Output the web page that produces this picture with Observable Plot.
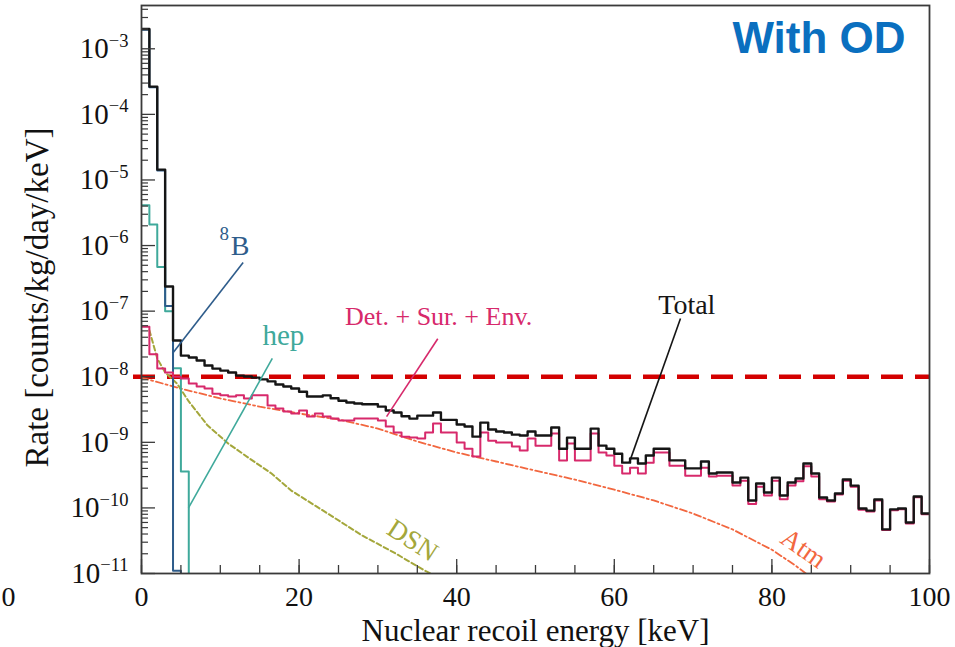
<!DOCTYPE html>
<html>
<head>
<meta charset="utf-8">
<script src="https://cdn.jsdelivr.net/npm/d3@7"></script>
<script src="https://cdn.jsdelivr.net/npm/@observablehq/plot@0.6"></script>
<style>
  body { margin: 0; background: #fff; }
  #chart { width: 955px; height: 647px; overflow: hidden; }
</style>
</head>
<body>
<div id="chart"></div>
<script>
// Nuclear-recoil background spectra, 1 keV bins starting at 0 keV.
// Rates in counts/kg/day/keV.
const totalRate = [
  2.0e-3, 2.65e-4, 1.44e-5, 2.37e-7, 3.56e-8, 2.1e-8, 1.96e-8, 1.77e-8, 1.48e-8, 1.33e-8,
  1.24e-8, 1.16e-8, 1.04e-8, 1.01e-8, 9.7e-9, 9.1e-9, 8.5e-9, 7.6e-9, 7.1e-9, 6.6e-9,
  5.9e-9, 5.0e-9, 5.0e-9, 5.2e-9, 4.7e-9, 4.3e-9, 4.05e-9, 3.9e-9, 3.8e-9, 3.8e-9,
  3.5e-9, 3.05e-9, 2.85e-9, 2.5e-9, 2.3e-9, 2.55e-9, 2.55e-9, 2.85e-9, 2.2e-9, 2.2e-9,
  1.87e-9, 1.74e-9, 1.22e-9, 2.0e-9, 1.57e-9, 1.46e-9, 1.41e-9, 1.31e-9, 1.27e-9, 1.46e-9,
  1.27e-9, 1.27e-9, 1.68e-9, 8.0e-10, 1.18e-9, 8.0e-10, 8.0e-10, 1.62e-9, 8.9e-10, 8.0e-10,
  6.7e-10, 4.9e-10, 5.7e-10, 4.75e-10, 6.3e-10, 8.0e-10, 8.0e-10, 5.3e-10, 5.3e-10, 4.0e-10,
  4.0e-10, 5.1e-10, 3.35e-10, 3.47e-10, 3.47e-10, 2.44e-10, 2.9e-10, 1.3e-10, 2.36e-10, 1.72e-10,
  2.9e-10, 1.55e-10, 2.44e-10, 2.81e-10, 4.75e-10, 3.35e-10, 1.44e-10, 1.3e-10, 1.66e-10, 2.71e-10,
  2.19e-10, 9.8e-11, 9.1e-11, 1.34e-10, 4.7e-11, 9.5e-11, 9.8e-11, 6.0e-11, 1.49e-10, 8.2e-11
];
const detSurEnvRate = [
  5.8e-8, 2.2e-8, 1.33e-8, 1.16e-8, 1.0e-8, 9.4e-9, 7.9e-9, 7.1e-9, 6.6e-9, 5.5e-9,
  5.2e-9, 5.0e-9, 5.2e-9, 4.66e-9, 5.2e-9, 5.2e-9, 3.64e-9, 3.27e-9, 2.95e-9, 2.75e-9,
  3.05e-9, 2.47e-9, 2.75e-9, 2.47e-9, 2.31e-9, 2.15e-9, 2.15e-9, 2.31e-9, 2.31e-9, 2.31e-9,
  2.15e-9, 1.74e-9, 1.41e-9, 1.22e-9, 1.18e-9, 1.14e-9, 1.41e-9, 1.94e-9, 1.41e-9, 1.41e-9,
  9.9e-10, 8.0e-10, 6.1e-10, 1.41e-9, 1.06e-9, 9.9e-10, 9.9e-10, 8.6e-10, 7.5e-10, 1.14e-9,
  8.9e-10, 8.9e-10, 1.36e-9, 5.3e-10, 9.6e-10, 5.3e-10, 5.3e-10, 1.36e-9, 7.0e-10, 6.3e-10,
  4.4e-10, 3.35e-10, 4.1e-10, 3.35e-10, 4.9e-10, 7.0e-10, 7.0e-10, 4.4e-10, 4.4e-10, 3.1e-10,
  3.1e-10, 4.1e-10, 3.0e-10, 3.1e-10, 3.1e-10, 2.2e-10, 2.6e-10, 1.15e-10, 2.1e-10, 1.55e-10,
  2.6e-10, 1.35e-10, 2.2e-10, 2.55e-10, 4.3e-10, 3.0e-10, 1.35e-10, 1.25e-10, 1.6e-10, 2.6e-10,
  2.1e-10, 9.4e-11, 8.8e-11, 1.3e-10, 4.6e-11, 9.2e-11, 9.5e-11, 5.8e-11, 1.45e-10, 8.0e-11
];
const boron8Rate = [1.95e-3, 2.6e-4, 1.4e-5, 1.2e-7, 1.1e-11];
const hepRate = [4.1e-6, 2.1e-6, 4.7e-7, 1.0e-7, 1.35e-8, 3.6e-10];

// Smooth components (energy in keV, rate)
const atmEnergy = [0, 5, 10, 15, 20, 25, 30, 35, 40, 45, 50, 55, 60, 65, 70, 75, 80, 83, 86];
const atmRate = [9.7e-9, 6.6e-9, 4.66e-9, 3.5e-9, 2.75e-9, 2.23e-9, 1.62e-9, 1.03e-9, 7.0e-10, 5.1e-10,
  3.7e-10, 2.7e-10, 1.9e-10, 1.3e-10, 8.2e-11, 4.7e-11, 2.3e-11, 1.32e-11, 7e-12];
const dsnEnergy = [1, 2, 3, 4.5, 6, 8.4, 11, 13.5, 16.5, 19, 22, 24, 28, 32, 36, 38];
const dsnRate = [5.1e-8, 1.9e-8, 1.16e-8, 7.9e-9, 4.2e-9, 1.8e-9, 9.6e-10, 5.9e-10, 3.35e-10, 1.84e-10,
  1.09e-10, 7.7e-11, 3.8e-11, 2.1e-11, 1.1e-11, 8.4e-12];

const thresholdRate = 1e-8;
const xTickValues = [0, 20, 40, 60, 80, 100];
const yExponents = [-11, -10, -9, -8, -7, -6, -5, -4, -3];

// Empty bins sit below the axis floor and get clipped away.
const emptyRate = 1e-13;
const yTop = 10 ** -2.34;

function histSteps(values, dropToEmpty) {
  const pts = values.map((v, i) => ({E: i, rate: v}));
  pts.push({E: values.length, rate: dropToEmpty ? emptyRate : values[values.length - 1]});
  return pts;
}
const curve = (es, rs) => es.map((e, i) => ({E: e, rate: rs[i]}));

const yMajor = yExponents.map(k => 10 ** k);
const yMinor = [];
for (const k of yExponents) for (let m = 2; m <= 9; m++) if (m * 10 ** k < yTop) yMinor.push(m * 10 ** k);
const xMinor = d3.range(0, 101, 5);

const C = {
  total: "#151515", det: "#d7296b", b8: "#2e5c8b", hep: "#3fa99b",
  dsn: "#a4a73b", atm: "#f2673f", thr: "#d30000", od: "#0a6fbf", axis: "#3a3a3a"
};
const serif = "Liberation Serif, Times New Roman, serif";

const plot = Plot.plot({
  width: 955,
  height: 647,
  marginLeft: 141,
  marginRight: 26,
  marginTop: 5,
  marginBottom: 74,
  x: {domain: [0, 100]},
  y: {type: "log", domain: [1e-11, yTop]},
  style: {fontFamily: serif, fontSize: "28px", color: "#111", background: "#fff"},
  marks: [
    // threshold
    Plot.ruleY([thresholdRate], {stroke: C.thr, strokeWidth: 4.5, strokeDasharray: "22,12", insetLeft: -8, ariaLabel: "threshold"}),
    // smooth components
    Plot.line(curve(atmEnergy, atmRate), {x: "E", y: "rate", stroke: C.atm, strokeWidth: 1.8, strokeDasharray: "7,3,2,3", clip: true}),
    Plot.line(curve(dsnEnergy, dsnRate), {x: "E", y: "rate", stroke: C.dsn, strokeWidth: 2, strokeDasharray: "5,3", clip: true}),
    // histograms
    Plot.line(histSteps(hepRate, true), {x: "E", y: "rate", curve: "step-after", stroke: C.hep, strokeWidth: 2, clip: true}),
    Plot.line(histSteps(boron8Rate, true), {x: "E", y: "rate", curve: "step-after", stroke: C.b8, strokeWidth: 2, clip: true}),
    Plot.line(histSteps(detSurEnvRate, false), {x: "E", y: "rate", curve: "step-after", stroke: C.det, strokeWidth: 2, clip: true}),
    Plot.line(histSteps(totalRate, false), {x: "E", y: "rate", curve: "step-after", stroke: C.total, strokeWidth: 2.4, clip: true}),

    // annotation pointers
    Plot.link([0], {x1: 12.9, y1: 5.5e-7, x2: 3.93, y2: 2.26e-8, stroke: C.b8, strokeWidth: 1.6}),
    Plot.link([0], {x1: 16.6, y1: 1.9e-8, x2: 5.96, y2: 1.0e-10, stroke: C.hep, strokeWidth: 1.6}),
    Plot.link([0], {x1: 37.6, y1: 3.8e-8, x2: 31.1, y2: 2.47e-9, stroke: C.det, strokeWidth: 1.6}),
    Plot.link([0], {x1: 68.4, y1: 7.7e-8, x2: 61.9, y2: 4.9e-10, stroke: C.total, strokeWidth: 1.6}),

    // annotation labels
    Plot.text(["B"], {text: d => d, x: 12.5, y: 1.0e-6, fill: C.b8, fontSize: 28}),
    Plot.text(["8"], {text: d => d, x: 10.5, y: 1.5e-6, fill: C.b8, fontSize: 19}),
    Plot.text(["hep"], {text: d => d, x: 18.0, y: 4.2e-8, fill: C.hep, fontSize: 29}),
    Plot.text(["Det. + Sur. + Env."], {text: d => d, x: 37.7, y: 8.3e-8, fill: C.det, fontSize: 26}),
    Plot.text(["Total"], {text: d => d, x: 69.2, y: 1.26e-7, fill: C.total, fontSize: 28}),
    Plot.text(["DSN"], {text: d => d, x: 34.4, y: 3.2e-11, fill: C.dsn, fontSize: 27, rotate: 33}),
    Plot.text(["Atm"], {text: d => d, x: 84.0, y: 2.4e-11, fill: C.atm, fontSize: 27, rotate: 35}),
    Plot.text(["With OD"], {text: d => d, frameAnchor: "top-right", dx: -24, dy: 33, textAnchor: "end", lineAnchor: "middle",
      fontFamily: "Liberation Sans, Arial, sans-serif", fontWeight: "bold", fontSize: 44, fill: C.od}),
    Plot.text(["0"], {text: d => d, frameAnchor: "bottom-left", dx: -140, dy: 24, textAnchor: "start", lineAnchor: "middle", fontSize: 28}),

    // frame and inward ticks
    Plot.frame({stroke: C.axis, strokeWidth: 1.8}),
    Plot.axisX({ticks: xMinor, tickSize: -8, tickFormat: () => "", fill: "none", stroke: C.axis, strokeWidth: 1.3, label: null}),
    Plot.axisX({ticks: xTickValues, tickSize: -14, tickFormat: () => "", fill: "none", stroke: C.axis, strokeWidth: 1.3, label: null}),
    Plot.axisX({ticks: xTickValues, tickSize: 0, tickPadding: 13, fontSize: 28, label: null}),
    Plot.axisY({ticks: yMinor, tickSize: -7, tickFormat: () => "", fill: "none", stroke: C.axis, strokeWidth: 1.2, label: null}),
    Plot.axisY({ticks: yMajor, tickSize: -14, tickFormat: () => "", fill: "none", stroke: C.axis, strokeWidth: 1.3, label: null}),
    Plot.axisY({ticks: yMajor, tickSize: 0, tickPadding: 13, fontSize: 29,
      tickFormat: d => "\u2212" + Math.round(-Math.log10(d)), label: null}),

    // axis titles
    Plot.text(["Nuclear recoil energy [keV]"], {text: d => d, frameAnchor: "bottom", dy: 58, textAnchor: "middle", lineAnchor: "middle", fontSize: 31}),
    Plot.text(["Rate [counts/kg/day/keV]"], {text: d => d, frameAnchor: "left", dx: -104, dy: 8, rotate: -90,
      textAnchor: "middle", lineAnchor: "middle", fontSize: 33})
  ]
});

// Power-of-ten tick labels: "10" with a raised exponent.
const NS = "http://www.w3.org/2000/svg";
plot.querySelectorAll('[aria-label="y-axis tick label"] text').forEach(t => {
  const exp = t.textContent;
  if (!exp) return;
  t.textContent = "";
  const base = document.createElementNS(NS, "tspan");
  base.textContent = "10";
  const sup = document.createElementNS(NS, "tspan");
  sup.textContent = exp;
  sup.setAttribute("font-size", "0.64em");
  sup.setAttribute("dy", "-0.62em");
  t.append(base, sup);
});

// soft shadow under the threshold line
const thr = plot.querySelector('[aria-label="threshold"]');
if (thr) thr.style.filter = "drop-shadow(0px 5px 3px rgba(0,0,0,0.35))";

document.getElementById("chart").append(plot);
</script>
</body>
</html>
